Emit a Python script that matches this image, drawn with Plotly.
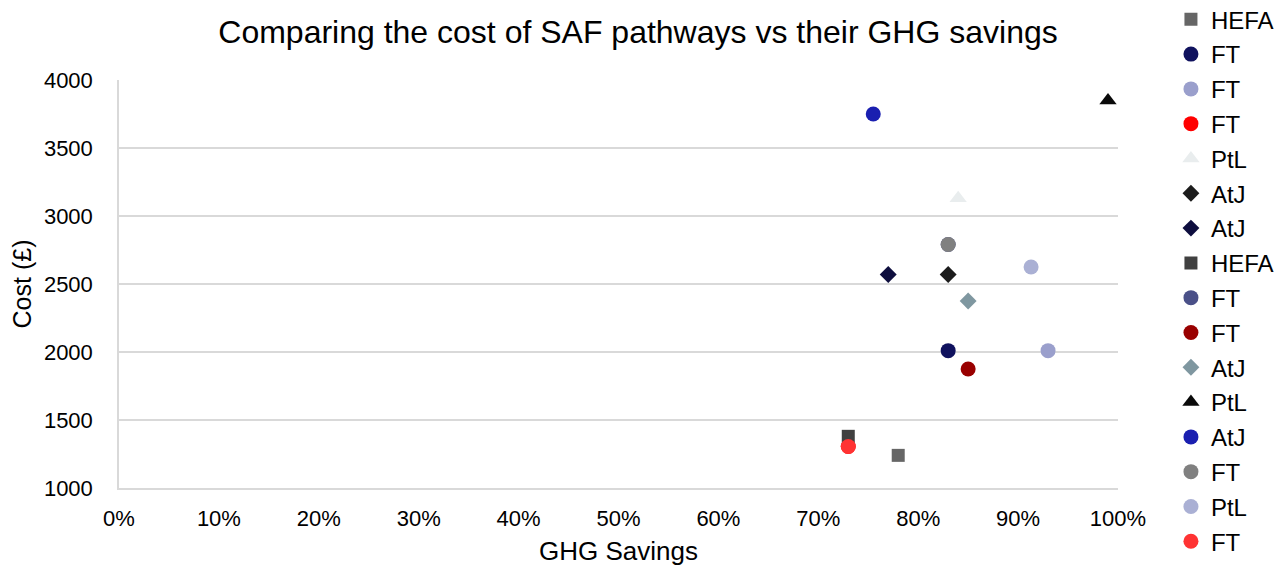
import plotly.graph_objects as go

names = ["HEFA", "FT", "FT", "FT", "PtL", "AtJ", "AtJ", "HEFA",
         "FT", "FT", "AtJ", "PtL", "AtJ", "FT", "PtL", "FT"]
ghg_savings = [0.78, 0.83, 0.93, 0.73, 0.84, 0.83, 0.77, 0.73,
               0.83, 0.85, 0.85, 0.99, 0.755, 0.83, 0.913, 0.73]
cost = [1240, 2010, 2010, 1305, 3130, 2570, 2570, 1380,
        2790, 1875, 2375, 3850, 3750, 2790, 2625, 1305]
colors = ["#666666", "#10125e", "#9a9fcc", "#ff0000", "#e9edee", "#1c1c1c", "#0e0e3e", "#404040",
          "#4a5088", "#990000", "#7f97a0", "#0a0a0a", "#1a1fb0", "#808080", "#aab0d4", "#ff3333"]
symbols = ["square", "circle", "circle", "circle", "triangle-up", "diamond", "diamond", "square",
           "circle", "circle", "diamond", "triangle-up", "circle", "circle", "circle", "circle"]
sizes = {"square": 13, "circle": 15, "diamond": 13, "triangle-up": 15}

x_ticks = [i / 10 for i in range(11)]
y_ticks = [1000, 1500, 2000, 2500, 3000, 3500, 4000]

fig = go.Figure()
for i, (n, x, y, c, s) in enumerate(zip(names, ghg_savings, cost, colors, symbols)):
    fig.add_trace(go.Scatter(
        x=[x], y=[y], mode="markers", name=n, legendgroup=f"g{i}",
        marker=dict(color=c, symbol=s, size=sizes[s], line=dict(width=0)),
    ))

font = "Liberation Sans, Arial, sans-serif"
# the page body adds an 8px margin, so the figure is 8px smaller and margins shifted
fig.update_layout(
    width=1274, height=560,
    margin=dict(l=111, r=164, t=72, b=80, autoexpand=False),
    paper_bgcolor="white", plot_bgcolor="white",
    font=dict(family=font, size=22, color="#000000"),
    title=dict(text="Comparing the cost of SAF pathways vs their GHG savings",
               x=0.4945, xref="container", xanchor="center", y=0.957, yref="container", yanchor="middle",
               font=dict(size=32, family=font, color="#000000")),
    showlegend=True,
    legend=dict(x=1.053, xanchor="left", y=1.203, yanchor="top",
                traceorder="grouped", tracegroupgap=0.6, maxheight=700,
                font=dict(size=24, family=font), itemwidth=30,
                bgcolor="rgba(0,0,0,0)"),
    xaxis=dict(range=[0, 1], tickvals=x_ticks, tickformat=".0%",
               showgrid=False, zeroline=False, showline=True, linecolor="#d9d9d9", linewidth=1.5,
               ticks="", ticklabelstandoff=10,
               title=dict(text="GHG Savings", font=dict(size=26), standoff=12),
               tickfont=dict(size=22)),
    yaxis=dict(range=[1000, 4000], tickvals=y_ticks, showgrid=True, gridcolor="#d9d9d9", gridwidth=1.5,
               zeroline=False, showline=True, linecolor="#d9d9d9", linewidth=1.5,
               ticks="", ticklabelstandoff=20,
               title=dict(text="Cost (£)", font=dict(size=25), standoff=6),
               tickfont=dict(size=22)),
)
fig.write_html("out.html")
